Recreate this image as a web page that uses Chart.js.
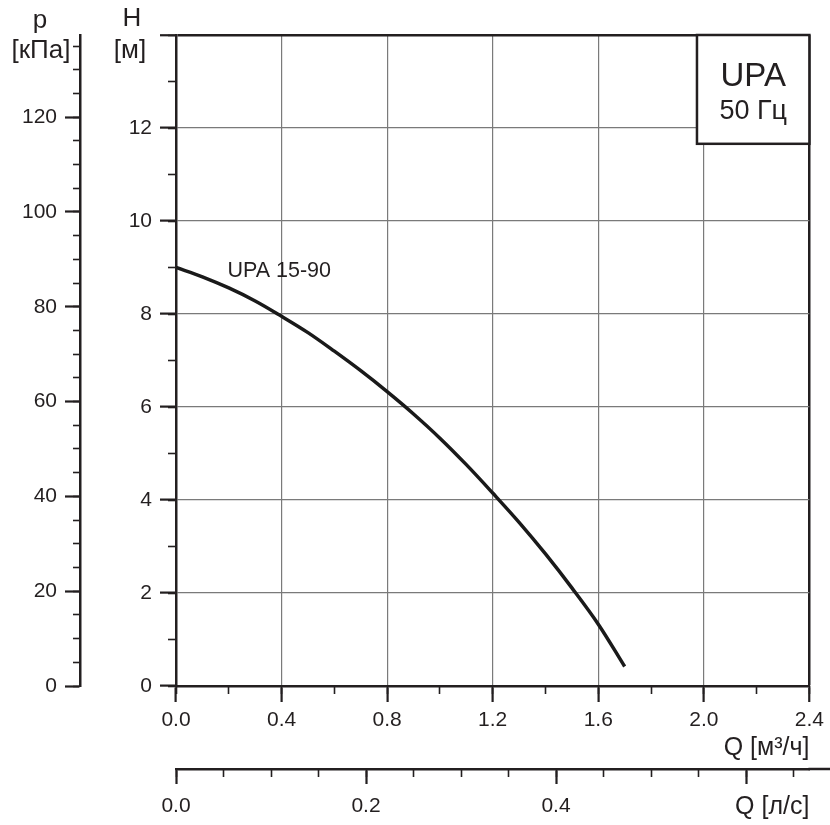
<!DOCTYPE html>
<html><head><meta charset="utf-8">
<script src="https://cdn.jsdelivr.net/npm/chart.js@4"></script>
<style>html,body{margin:0;padding:0;background:#fff}#wrap{width:830px;height:825px;position:relative}</style>
</head><body><div id="wrap"><canvas id="c" width="830" height="825"></canvas></div>
<script>
// ---- data ----
const flowM3h = [0, 0.1, 0.2, 0.3, 0.4, 0.5, 0.6, 0.7, 0.8, 0.9, 1.0, 1.1, 1.2, 1.3, 1.4, 1.5, 1.6, 1.7];
const headM   = [9.00, 8.80, 8.56, 8.28, 7.95, 7.60, 7.20, 6.78, 6.33, 5.85, 5.33, 4.76, 4.15, 3.52, 2.84, 2.11, 1.33, 0.42];
const curveName = 'UPA 15-90';
const boxTitle = 'UPA';
const boxSub = '50 Гц';
const hRange = [0, 14];
const qRange = [0, 2.4];
const pMax = 14 * 9.81;          // kPa equal to 14 m
const qLsMax = 2.4 / 3.6;        // l/s equal to 2.4 m3/h
const hTitle = ['H', '[м]'];
const pTitle = ['p', '[кПа]'];
const qTitle = 'Q [м³/ч]';
const qLsTitle = 'Q [л/с]';

const dark = '#231f20';
const gridGray = '#7a7a7a';
const FAM = "'Liberation Sans', Arial, Helvetica, sans-serif";
const tickFont = {family: FAM, size: 21};

const near = (a, b) => Math.abs(a - b) < 1e-6;

function minorAxis(pos, weight, min, max, step, len) {
  return {
    type: 'linear', position: pos, weight: weight, min: min, max: max,
    ticks: {display: false, stepSize: step, maxTicksLimit: 1000, includeBounds: false},
    grid: {drawOnChartArea: false, drawTicks: true, tickLength: len, tickColor: dark, tickWidth: 1.6},
    border: {display: false},
    afterFit: s => { if (pos === 'left') s.width = 0; else s.height = 0; }
  };
}

const overlay = {
  id: 'overlay',
  afterDraw(chart) {
    const {ctx, chartArea, scales} = chart;
    const xs = scales.x, ys = scales.y;
    ctx.save();
    // extension of the l/s axis line
    ctx.strokeStyle = dark; ctx.lineWidth = 2.5;
    ctx.beginPath(); ctx.moveTo(chartArea.right - 1, scales.x2.top); ctx.lineTo(chart.width, scales.x2.top); ctx.stroke();

    // curve label
    ctx.fillStyle = dark;
    ctx.font = '21.5px ' + FAM;
    ctx.textAlign = 'left'; ctx.textBaseline = 'middle';
    ctx.fillText(curveName, xs.getPixelForValue(0.195), ys.getPixelForValue(8.92));

    // axis titles on top
    ctx.textAlign = 'center';
    ctx.font = '26px ' + FAM;
    const pc = (scales.p.left + scales.p.right) / 2;
    const hc = (scales.y.left + scales.y.right) / 2 + 2;
    ctx.fillText(pTitle[0], pc, 21);
    ctx.fillText(pTitle[1], pc + 1, 51);
    ctx.fillText(hTitle[0], hc + 2, 19);
    ctx.fillText(hTitle[1], hc, 51);

    // UPA box
    const bx0 = xs.getPixelForValue(1.974), bx1 = chartArea.right;
    const by0 = chartArea.top, by1 = ys.getPixelForValue(11.66);
    ctx.fillStyle = '#fff';
    ctx.fillRect(bx0, by0, bx1 - bx0, by1 - by0);
    ctx.strokeStyle = dark; ctx.lineWidth = 2.5;
    ctx.strokeRect(bx0, by0, bx1 - bx0, by1 - by0);
    ctx.fillStyle = dark;
    const bc = (bx0 + bx1) / 2;
    ctx.font = '33px ' + FAM;
    ctx.fillText(boxTitle, bc, by0 + 42);
    ctx.font = '27px ' + FAM;
    ctx.fillText(boxSub, bc, by0 + 77);
    ctx.restore();
  }
};

new Chart(document.getElementById('c'), {
  type: 'line',
  data: {
    datasets: [{
      label: curveName,
      data: flowM3h.map((q, i) => ({x: q, y: headM[i]})),
      xAxisID: 'x', yAxisID: 'y',
      borderColor: '#1a1a1a', borderWidth: 3.5,
      pointRadius: 0, tension: 0.35, fill: false
    }]
  },
  options: {
    responsive: false, animation: false, devicePixelRatio: 1,
    layout: {padding: {top: 35, right: 18, left: 0, bottom: 0}},
    plugins: {legend: {display: false}, tooltip: {enabled: false}},
    scales: {
      x: {
        type: 'linear', position: 'bottom', weight: 2, min: qRange[0], max: qRange[1],
        ticks: {stepSize: 0.4, maxTicksLimit: 100, autoSkip: false, maxRotation: 0, includeBounds: false,
                callback: v => v.toFixed(1), font: tickFont, color: dark, padding: 6},
        grid: {color: c => (c.tick && near(c.tick.value, 2.4)) ? dark : gridGray,
               lineWidth: c => (c.tick && near(c.tick.value, 2.4)) ? 2.5 : 1.2,
               tickColor: dark, tickWidth: 2.2, tickLength: 16},
        border: {display: true, color: dark, width: 2.5},
        title: {display: true, text: qTitle, align: 'end', color: dark,
                font: {family: FAM, size: 25}, padding: {top: 0, bottom: 6}},
        afterFit: s => { s.height = 83; }
      },
      xMinor: minorAxis('bottom', 1, qRange[0], qRange[1], 0.2, 8),
      x2Minor: minorAxis('bottom', 3, 0, qLsMax, 0.05, 8),
      x2: {
        type: 'linear', position: 'bottom', weight: 4, min: 0, max: qLsMax,
        ticks: {stepSize: 0.2, maxTicksLimit: 100, autoSkip: false, maxRotation: 0, includeBounds: false,
                callback: v => (v > 0.5 ? '' : v.toFixed(1)), font: tickFont, color: dark, padding: 10},
        grid: {drawOnChartArea: false, tickColor: dark, tickWidth: 2.2, tickLength: 15},
        border: {display: true, color: dark, width: 2.5},
        title: {display: true, text: qLsTitle, align: 'end', color: dark,
                font: {family: FAM, size: 25}, padding: {top: 0, bottom: 3}},
        afterFit: s => { s.height = 56; }
      },
      y: {
        type: 'linear', position: 'left', weight: 2, min: hRange[0], max: hRange[1],
        ticks: {stepSize: 2, maxTicksLimit: 100, autoSkip: false, includeBounds: false,
                callback: v => (v >= 14 ? '' : String(v)), font: tickFont, color: dark, padding: 8},
        grid: {color: c => (c.tick && near(c.tick.value, 14)) ? dark : gridGray,
               lineWidth: c => (c.tick && near(c.tick.value, 14)) ? 2.5 : 1.2,
               tickColor: dark, tickWidth: 2.2, tickLength: 16},
        border: {display: true, color: dark, width: 2.5},
        afterFit: s => { s.width = 96; }
      },
      yMinor: minorAxis('left', 1, hRange[0], hRange[1], 1, 8),
      pMinor: minorAxis('left', 3, 0, pMax, 5, 7),
      p: {
        type: 'linear', position: 'left', weight: 4, min: 0, max: pMax,
        ticks: {stepSize: 20, maxTicksLimit: 100, autoSkip: false, includeBounds: false,
                callback: v => String(Math.round(v)), font: tickFont, color: dark, padding: 8},
        grid: {drawOnChartArea: false, tickColor: dark, tickWidth: 2.2, tickLength: 15},
        border: {display: true, color: dark, width: 2.5},
        afterFit: s => { s.width = 80; }
      }
    }
  },
  plugins: [overlay]
});
</script>
</body></html>
